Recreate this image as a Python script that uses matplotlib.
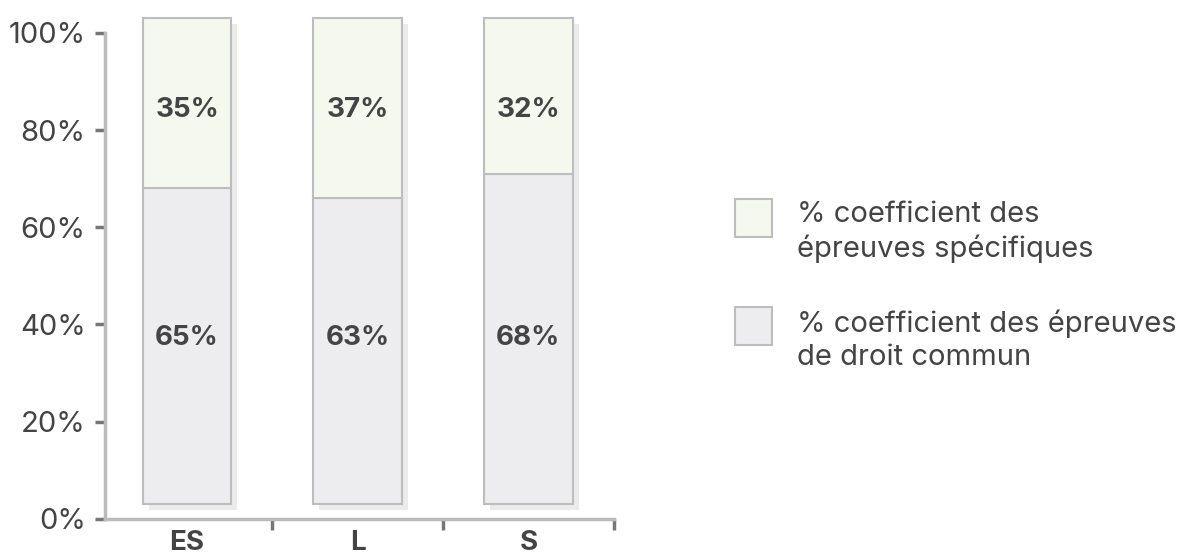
import matplotlib.pyplot as plt
from matplotlib.patches import Rectangle
import numpy as np

plt.rcParams['font.family'] = ['Inter', 'DejaVu Sans']

categories = ['ES', 'L', 'S']
droit_commun = [65, 63, 68]
specifiques = [35, 37, 32]
label_specifiques = '% coefficient des\népreuves spécifiques'
label_commun = '% coefficient des épreuves\nde droit commun'

base = 3  # bars sit slightly above the axis
col_top = '#F5F8EE'
col_bottom = '#EDEDF0'
col_edge = '#BDBDBD'
col_shadow = '#EBEBEB'
col_text = '#444444'

W, H = 1194, 558
fig = plt.figure(figsize=(W / 100, H / 100), dpi=100)
ax = fig.add_axes([0.088, 0.07, 0.426, 0.906])

x = np.arange(len(categories))
w = 0.52
totals = np.array(droit_commun) + np.array(specifiques)

# drop shadow
ax.bar(x + 0.035, totals, w, bottom=base - 1.1, color=col_shadow, zorder=1)
ax.bar(x, droit_commun, w, bottom=base, color=col_bottom, edgecolor=col_edge,
       linewidth=1.5, zorder=2)
ax.bar(x, specifiques, w, bottom=base + np.array(droit_commun), color=col_top,
       edgecolor=col_edge, linewidth=1.5, zorder=2)

# value labels sit on two fixed rows
for i in range(len(categories)):
    ax.text(x[i], 37.3, f'{droit_commun[i]}%', ha='center', va='center',
            fontsize=20, fontweight='bold', color=col_text, zorder=3)
    ax.text(x[i], 84.2, f'{specifiques[i]}%', ha='center', va='center',
            fontsize=20, fontweight='bold', color=col_text, zorder=3)

ax.set_xlim(-0.48, 2.5)
ax.set_ylim(0, 104)
ax.set_yticks([0, 20, 40, 60, 80, 100])
ax.set_yticklabels([f'{v}%' for v in [0, 20, 40, 60, 80, 100]])
ax.tick_params(axis='y', length=7, width=2.5, color='#777777', pad=7,
               labelsize=21, labelcolor=col_text)

ax.set_xticks([0.5, 1.5, 2.5])
ax.set_xticklabels([])
ax.set_xticks(x, minor=True)
ax.set_xticklabels(categories, minor=True, fontsize=20, fontweight='bold', color=col_text)
ax.tick_params(axis='x', which='major', length=8, width=2.5, color='#777777', direction='out')
ax.tick_params(axis='x', which='minor', length=0, pad=8)

for s in ['top', 'right']:
    ax.spines[s].set_visible(False)
ax.spines['left'].set_bounds(0, 100)
for s in ['left', 'bottom']:
    ax.spines[s].set_color('#BBBBBB')
    ax.spines[s].set_linewidth(2.5)

# legend drawn by hand: box aligned with first text line
legend_items = [(label_specifiques, col_top, 199), (label_commun, col_bottom, 307)]
for text, colr, top in legend_items:
    fig.add_artist(Rectangle((735 / W, 1 - (top + 38) / H), 37 / W, 38 / H,
                             transform=fig.transFigure, facecolor=colr,
                             edgecolor=col_edge, linewidth=1.5))
    fig.text(797 / W, 1 - (top + 2) / H, text, ha='left', va='top', fontsize=21,
             color=col_text, linespacing=1.3)

fig.savefig('out.png', dpi=100)
